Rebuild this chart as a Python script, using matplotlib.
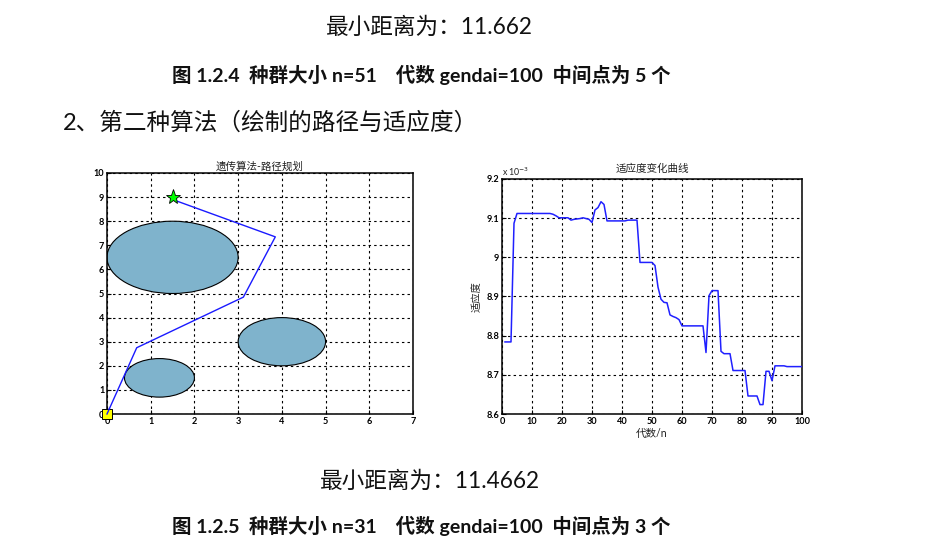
import matplotlib
matplotlib.use("Agg")
import matplotlib.pyplot as plt
from matplotlib.patches import Ellipse

plt.rcParams['font.family'] = ['Lato', 'Noto Sans CJK SC', 'DejaVu Sans']

# ---------------- data ----------------
path_x = [0.0, 0.68, 3.12, 3.85, 1.5]
path_y = [0.0, 2.75, 4.85, 7.35, 8.9]
start_pt = (0.0, 0.0)
end_pt = (1.5, 9.0)
obs_cx = [1.5, 4.0, 1.2]
obs_cy = [6.5, 3.0, 1.5]
obs_r = [1.5, 1.0, 0.8]

gens = list(range(1, 101))
fitness_e3 = [
    8.784, 8.784, 8.784, 9.087, 9.112, 9.112, 9.112, 9.112, 9.112, 9.112,
    9.112, 9.112, 9.112, 9.112, 9.112, 9.112, 9.110, 9.106, 9.101, 9.101,
    9.101, 9.101, 9.095, 9.097, 9.098, 9.099, 9.101, 9.099, 9.097, 9.089,
    9.121, 9.127, 9.142, 9.135, 9.093, 9.093, 9.093, 9.093, 9.093, 9.093,
    9.093, 9.095, 9.095, 9.095, 9.095, 8.987, 8.987, 8.987, 8.987, 8.987,
    8.979, 8.924, 8.893, 8.885, 8.884, 8.853, 8.849, 8.846, 8.841, 8.825,
    8.825, 8.825, 8.825, 8.825, 8.825, 8.825, 8.825, 8.757, 8.902, 8.915,
    8.915, 8.915, 8.760, 8.754, 8.754, 8.754, 8.711, 8.711, 8.711, 8.711,
    8.711, 8.646, 8.646, 8.646, 8.646, 8.624, 8.624, 8.709, 8.709, 8.685,
    8.723, 8.723, 8.723, 8.723, 8.721, 8.721, 8.721, 8.721, 8.721, 8.721,
]

left_xticks = list(range(0, 8))
left_yticks = list(range(0, 11))
right_xticks = list(range(0, 101, 10))
right_yticks = [8.6, 8.7, 8.8, 8.9, 9.0, 9.1, 9.2]
right_yticklabels = ['8.6', '8.7', '8.8', '8.9', '9', '9.1', '9.2']

line1 = "最小距离为：11.662"
caption1 = "图 1.2.4  种群大小 n=51    代数 gendai=100  中间点为 5 个"
line3 = "2、第二种算法（绘制的路径与适应度）"
line4 = "最小距离为：11.4662"
caption2 = "图 1.2.5  种群大小 n=31    代数 gendai=100  中间点为 3 个"

W, H = 941, 552
fig = plt.figure(figsize=(W / 100, H / 100), dpi=100)
fig.patch.set_facecolor('white')

def fx(px):
    return px / W

def fy(py):
    return 1 - py / H

# ---------------- page text ----------------
fig.text(fx(429), fy(27), line1, ha='center', va='center', fontsize=16.3, color='#111111')
fig.text(fx(421), fy(75), caption1, ha='center', va='center', fontsize=14,
         fontweight='bold', color='#111111')
fig.text(fx(63), fy(122), line3, ha='left', va='center', fontsize=17, color='#111111')
fig.text(fx(430), fy(481), line4, ha='center', va='center', fontsize=16.3, color='#111111')
fig.text(fx(421), fy(526), caption2, ha='center', va='center', fontsize=14,
         fontweight='bold', color='#111111')

grid_kw = dict(color='black', linestyle=(0, (2.2, 2.8)), linewidth=0.8)
tick_fs = 6.6

# ---------------- left chart ----------------
axL = fig.add_axes([fx(107), fy(414), (413 - 107) / W, (414 - 173) / H])
for cx, cy, r in zip(obs_cx, obs_cy, obs_r):
    axL.add_patch(Ellipse((cx, cy), 2 * r, 2 * r, facecolor='#7fb3cc',
                          edgecolor='black', linewidth=0.8, zorder=2))
axL.plot(path_x, path_y, color='#1a1aff', linewidth=1.0, zorder=3)
axL.plot([start_pt[0]], [start_pt[1]], marker='s', markersize=7.5,
         markerfacecolor='#ffff00', markeredgecolor='black', markeredgewidth=0.7,
         clip_on=False, zorder=4, linestyle='none')
axL.plot([start_pt[0], path_x[1] * 0.08], [start_pt[1], path_y[1] * 0.08],
         color='#1a1aff', linewidth=1.0, zorder=5, clip_on=False)
axL.plot([end_pt[0]], [end_pt[1]], marker='*', markersize=11,
         markerfacecolor='#00ff00', markeredgecolor='black', markeredgewidth=0.6,
         zorder=4, linestyle='none')
axL.set_xlim(0, 7)
axL.set_ylim(0, 10)
axL.set_xticks(left_xticks)
axL.set_yticks(left_yticks)
axL.grid(True, **grid_kw)
axL.set_axisbelow(True)
axL.tick_params(direction='in', length=3, width=0.8, labelsize=tick_fs, pad=2)
for t in axL.get_xticklabels() + axL.get_yticklabels():
    t.set_fontweight('bold')
for s in axL.spines.values():
    s.set_linewidth(1.1)
axL.set_title("遗传算法-路径规划", fontsize=7.6, pad=2, color='#222222')

# ---------------- right chart ----------------
axR = fig.add_axes([fx(502), fy(414), (802 - 502) / W, (414 - 179) / H])
axR.plot(gens, fitness_e3, color='#2020ff', linewidth=1.1, zorder=3)
axR.set_xlim(0, 100)
axR.set_ylim(8.6, 9.2)
axR.set_xticks(right_xticks)
axR.set_yticks(right_yticks)
axR.set_yticklabels(right_yticklabels)
axR.grid(True, **grid_kw)
axR.set_axisbelow(True)
axR.tick_params(direction='in', length=3, width=0.8, labelsize=tick_fs, pad=2)
for t in axR.get_xticklabels() + axR.get_yticklabels():
    t.set_fontweight('bold')
for s in axR.spines.values():
    s.set_linewidth(1.1)
axR.set_title("适应度变化曲线", fontsize=7.6, pad=5, color='#222222')
axR.set_xlabel("代数/n", fontsize=7.6, labelpad=1.5, color='#222222')
axR.set_ylabel("适应度", fontsize=7.4, labelpad=3, color='#222222')
axR.text(0.0, 1.005, "x 10$^{-3}$", transform=axR.transAxes, fontsize=6.3,
         ha='left', va='bottom', color='#222222')

fig.savefig("out.png", dpi=100, facecolor='white')
